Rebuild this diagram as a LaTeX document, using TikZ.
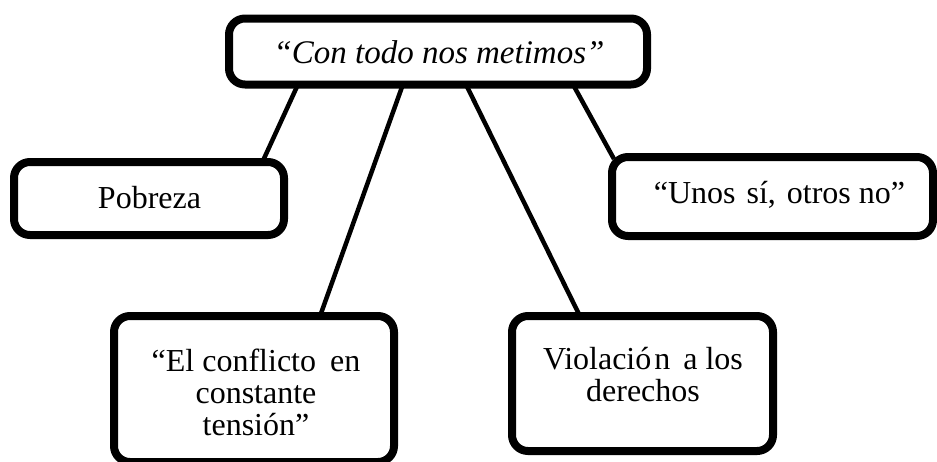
\documentclass[tikz,border=0pt]{standalone}
\usepackage{fontspec}
\setmainfont{Liberation Serif}
\usetikzlibrary{calc}
\tikzset{
  box/.style={draw=black, line width=8pt, rounded corners=16pt, inner sep=0pt, outer sep=0pt, fill=white},
  lbl/.style={inner sep=0pt, align=center, font=\fontsize{32}{32}\selectfont},
  link/.style={draw=black, line width=4.5pt}
}
\begin{document}
\begin{tikzpicture}[x=1pt,y=-1pt]
\useasboundingbox (0,0) rectangle (937,461);
\clip (0,0) rectangle (937,461);
% boxes
\node[box, minimum width=418pt, minimum height=66pt] (top) at (438,51.5) {};
\node[box, minimum width=270pt, minimum height=73pt] (pob) at (149,198.5) {};
\node[box, minimum width=321pt, minimum height=79pt] (unos) at (772.5,196.5) {};
\node[box, minimum width=280pt, minimum height=146pt] (conf) at (254,389) {};
\node[box, minimum width=261pt, minimum height=135pt] (viol) at (642.5,383.5) {};
% texts
\node[lbl, anchor=base, font=\fontsize{33}{33}\selectfont\itshape] (ttop) at (439,63) {“Con todo nos metimos”};
\node[lbl, anchor=base] (tpob) at (149.5,208) {Pobreza};
\node[lbl, anchor=base] (tunos) at (779.5,203) {“Unos\hspace{3pt} sí,\hspace{3pt} otros no”};
\node[lbl] (tconf) at (256,392) {“El conflicto\hspace{6pt} en\\constante\\tensión”};
\node[lbl] (tviol) at (643,375) {Violació\hspace{3pt}n\hspace{5pt} a los\\derechos};
% connectors
\draw[link] ($(top.south west)!0.165!(top.south east)$) -- ($(pob.north west)!0.92!(pob.north east)$);
\draw[link] ($(top.south west)!0.416!(top.south east)$) -- ($(conf.north west)!0.736!(conf.north east)$);
\draw[link] ($(top.south west)!0.567!(top.south east)$) -- ($(viol.north west)!0.26!(viol.north east)$);
\draw[link] ($(top.south west)!0.823!(top.south east)$) -- ($(unos.north west)+(2,2)$);
\end{tikzpicture}
\end{document}
